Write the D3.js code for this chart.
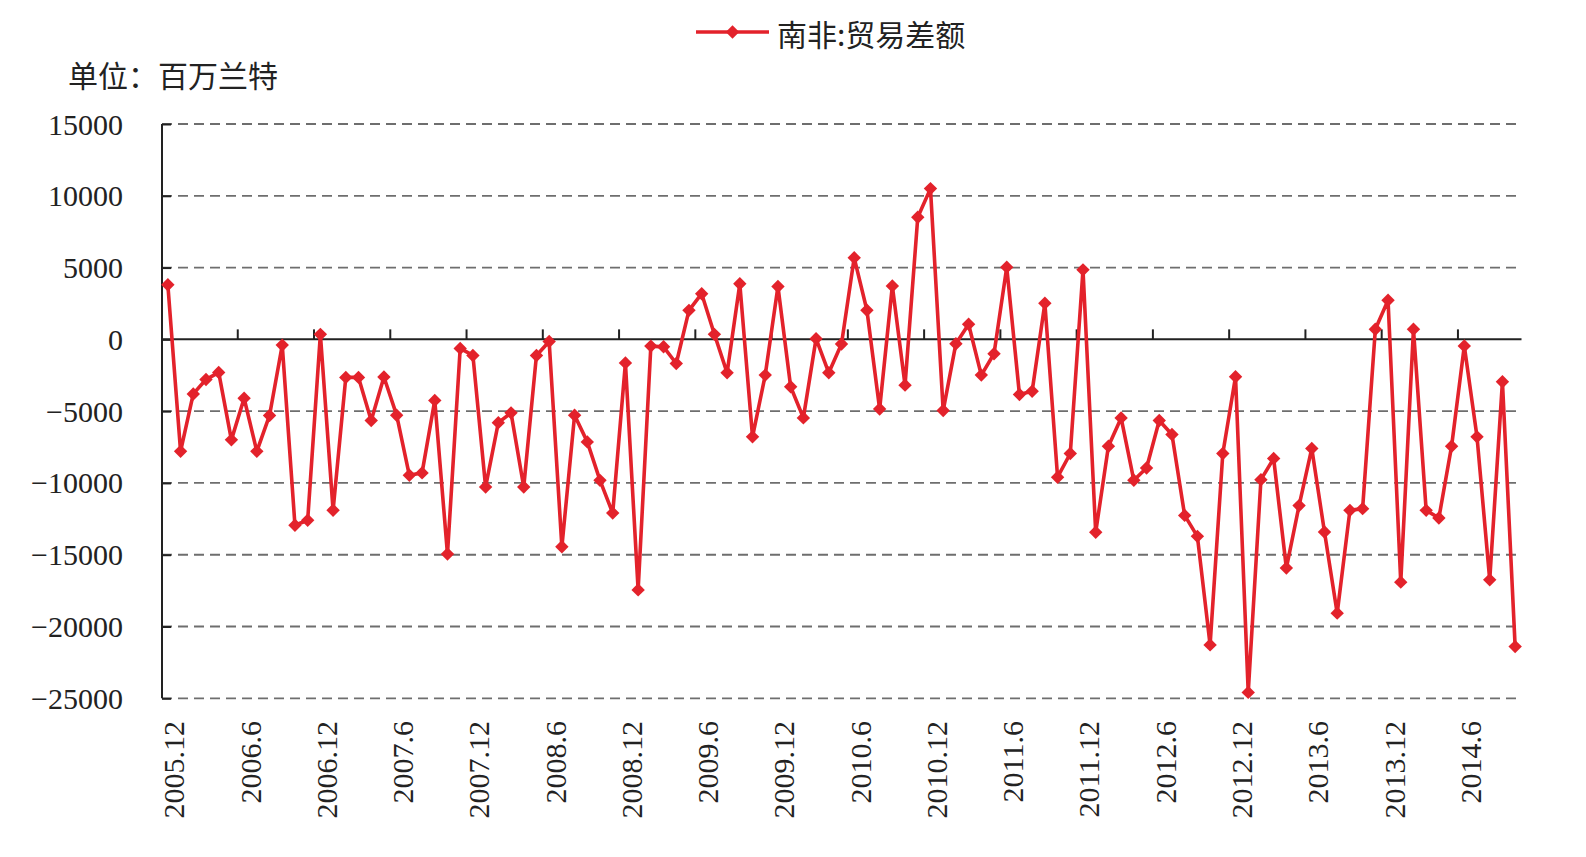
<!DOCTYPE html>
<html><head><meta charset="utf-8">
<script src="https://cdn.jsdelivr.net/npm/d3@7"></script>
<style>body{margin:0;background:#fff}svg{display:block}</style>
</head><body>
<svg id="c" width="1586" height="857"></svg>
<script>
const categories = [
"2005.12",
"2006.1","2006.2","2006.3","2006.4","2006.5","2006.6","2006.7","2006.8","2006.9","2006.10","2006.11","2006.12",
"2007.1","2007.2","2007.3","2007.4","2007.5","2007.6","2007.7","2007.8","2007.9","2007.10","2007.11","2007.12",
"2008.1","2008.2","2008.3","2008.4","2008.5","2008.6","2008.7","2008.8","2008.9","2008.10","2008.11","2008.12",
"2009.1","2009.2","2009.3","2009.4","2009.5","2009.6","2009.7","2009.8","2009.9","2009.10","2009.11","2009.12",
"2010.1","2010.2","2010.3","2010.4","2010.5","2010.6","2010.7","2010.8","2010.9","2010.10","2010.11","2010.12",
"2011.1","2011.2","2011.3","2011.4","2011.5","2011.6","2011.7","2011.8","2011.9","2011.10","2011.11","2011.12",
"2012.1","2012.2","2012.3","2012.4","2012.5","2012.6","2012.7","2012.8","2012.9","2012.10","2012.11","2012.12",
"2013.1","2013.2","2013.3","2013.4","2013.5","2013.6","2013.7","2013.8","2013.9","2013.10","2013.11","2013.12",
"2014.1","2014.2","2014.3","2014.4","2014.5","2014.6","2014.7","2014.8","2014.9","2014.10"
];
const tradeBalance = [
3800,
-7800,-3800,-2800,-2300,-7000,-4100,-7800,-5300,-400,-12950,-12600,350,
-11900,-2650,-2650,-5650,-2620,-5280,-9470,-9300,-4250,-14950,-630,-1120,
-10280,-5800,-5120,-10280,-1120,-150,-14450,-5280,-7140,-9820,-12100,-1640,
-17450,-470,-520,-1680,2020,3180,350,-2330,3870,-6790,-2490,3680,
-3300,-5470,50,-2330,-320,5680,2030,-4850,3720,-3190,8500,10500,
-4960,-300,1050,-2490,-1000,5030,-3840,-3610,2520,-9600,-7950,4840,
-13440,-7440,-5470,-9815,-8955,-5650,-6630,-12260,-13720,-21280,-7950,-2600,
-24590,-9770,-8300,-15930,-11580,-7600,-13420,-19070,-11910,-11790,700,2720,
-16910,700,-11910,-12440,-7440,-465,-6790,-16750,-2950,-21400
];
const yTicks = [15000,10000,5000,0,-5000,-10000,-15000,-20000,-25000];
const xTickLabels = ["2005.12","2006.6","2006.12","2007.6","2007.12","2008.6","2008.12","2009.6","2009.12","2010.6","2010.12","2011.6","2011.12","2012.6","2012.12","2013.6","2013.12","2014.6"];
const seriesName = "南非:贸易差额";
const unitLabel = "单位：百万兰特";

const svg = d3.select("#c");
const RED = "#e3222b";
const pLeft = 162, pRight = 1521.5, pTop = 124, pBottom = 698.3;

const x = d3.scaleBand().domain(categories).range([161.5, pRight]).paddingInner(0).paddingOuter(0);
const y = d3.scaleLinear().domain([-25000, 15000]).range([pBottom, pTop]);
const cx = d => x(d) + x.bandwidth() / 2;

// gridlines
svg.append("g").selectAll("line").data(yTicks.filter(v => v !== 0)).join("line")
  .attr("x1", pLeft).attr("x2", pRight)
  .attr("y1", d => y(d)).attr("y2", d => y(d))
  .attr("stroke", "#6e6e6e").attr("stroke-width", 1.8).attr("stroke-dasharray", "10,6");

// y axis
const yAxis = d3.axisRight(y).tickValues(yTicks).tickSize(9).tickFormat("");
const gy = svg.append("g").attr("transform", `translate(${pLeft},0)`).call(yAxis);
gy.select(".domain").attr("stroke", "#222").attr("stroke-width", 2).attr("d", `M0,${pTop}V${pBottom}`);
gy.selectAll(".tick line").attr("stroke", "#222").attr("stroke-width", 2);

// y tick labels
svg.append("g").selectAll("text").data(yTicks).join("text")
  .attr("x", 123).attr("y", d => y(d)).attr("text-anchor", "end").attr("dominant-baseline", "central")
  .attr("font-family", "'Liberation Serif','Times New Roman',serif").attr("font-size", 30).attr("fill", "#222")
  .text(d => d < 0 ? "\u2212" + Math.abs(d) : String(d));

// zero axis (x axis) with ticks pointing up at category boundaries
const boundaryCats = categories.filter((c, i) => i > 0 && i % 6 === 0);
svg.append("line").attr("x1", pLeft).attr("x2", pRight).attr("y1", y(0)).attr("y2", y(0))
  .attr("stroke", "#222").attr("stroke-width", 2);
svg.append("g").selectAll("line").data(boundaryCats).join("line")
  .attr("x1", d => x(d)).attr("x2", d => x(d)).attr("y1", y(0)).attr("y2", y(0) - 10)
  .attr("stroke", "#222").attr("stroke-width", 2);

// x labels rotated
svg.append("g").selectAll("text").data(xTickLabels).join("text")
  .attr("transform", d => `translate(${cx(d) + 6},721) rotate(-90)`)
  .attr("text-anchor", "end").attr("dominant-baseline", "central")
  .attr("font-family", "'Liberation Serif','Times New Roman',serif").attr("font-size", 30).attr("fill", "#222")
  .text(d => d);

// line
const data = categories.map((c, i) => ({c, v: tradeBalance[i]}));
svg.append("path").datum(data)
  .attr("d", d3.line().x(d => cx(d.c)).y(d => y(d.v)))
  .attr("fill", "none").attr("stroke", RED).attr("stroke-width", 3.6).attr("stroke-linejoin", "round");

const diamond = d3.symbol(d3.symbolSquare, 90);
svg.append("g").selectAll("path").data(data).join("path")
  .attr("d", diamond).attr("transform", d => `translate(${cx(d.c)},${y(d.v)}) rotate(45)`)
  .attr("fill", RED);

// legend
const lg = svg.append("g");
lg.append("line").attr("x1", 696).attr("x2", 769).attr("y1", 32).attr("y2", 32).attr("stroke", RED).attr("stroke-width", 3.6);
lg.append("path").attr("d", diamond).attr("transform", "translate(732.5,32) rotate(45)").attr("fill", RED);
lg.append("text").attr("x", 777).attr("y", 33).attr("dominant-baseline", "central")
  .attr("font-family", "'Noto Sans CJK SC',sans-serif").attr("font-size", 30).attr("fill", "#222").text(seriesName);

// unit label
svg.append("text").attr("x", 68).attr("y", 74).attr("dominant-baseline", "central")
  .attr("font-family", "'Noto Sans CJK SC',sans-serif").attr("font-size", 30).attr("fill", "#222").text(unitLabel);
</script>
</body></html>
